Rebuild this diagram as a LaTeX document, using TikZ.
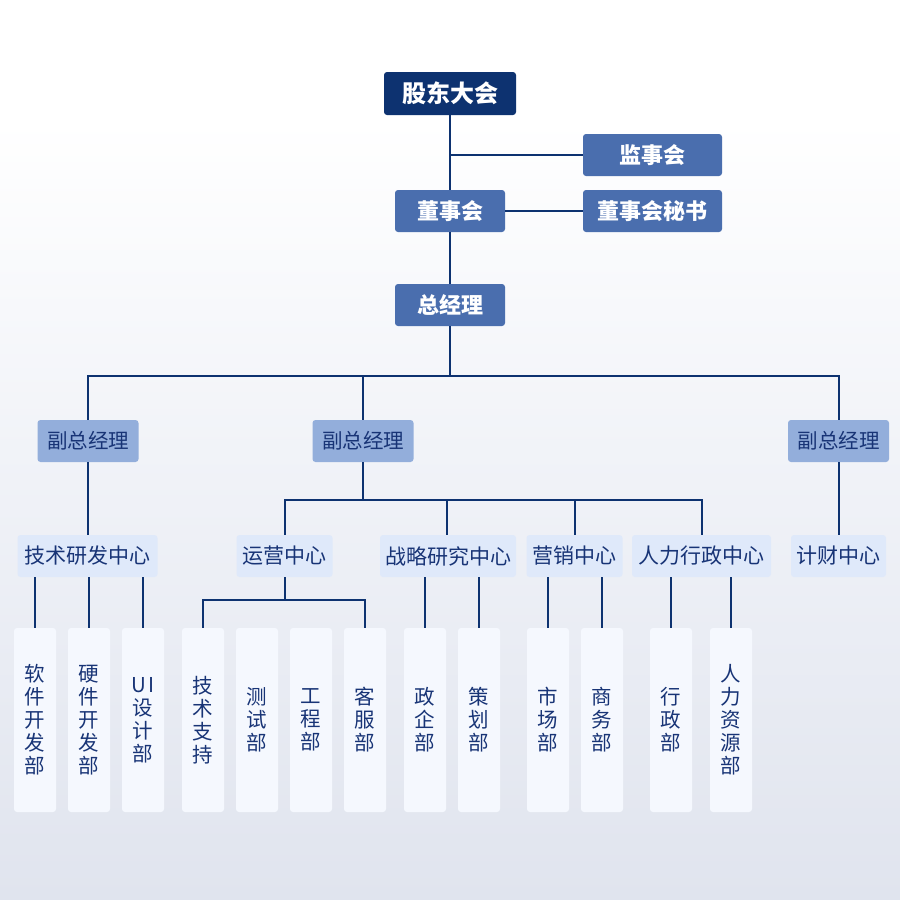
\documentclass[tikz,border=0pt]{standalone}
\usepackage{fontspec}
\setmainfont{Noto Sans CJK SC}
\definecolor{navy}{RGB}{13,50,112}
\definecolor{midblue}{RGB}{74,110,174}
\definecolor{vpblue}{RGB}{147,174,219}
\definecolor{ctrblue}{RGB}{223,233,250}
\definecolor{deptbg}{RGB}{245,248,254}
\definecolor{txtnavy}{RGB}{24,52,118}
\definecolor{bgbot}{RGB}{224,228,238}
\definecolor{bgmid}{RGB}{241,243,248}
\begin{document}
\begin{tikzpicture}[x=1pt,y=-1pt,
  box/.style={rounded corners=3pt, inner sep=0pt, anchor=center, align=center},
  topbox/.style={box, fill=navy, text=white, font=\fontsize{24}{27}\selectfont\bfseries, minimum width=132pt, minimum height=43pt},
  bluebox/.style={box, fill=midblue, text=white, font=\fontsize{22}{25}\selectfont\bfseries, minimum height=42pt},
  vpbox/.style={box, fill=vpblue, text=txtnavy, font=\fontsize{20.5}{24}\selectfont, minimum width=101pt, minimum height=42pt},
  ctrbox/.style={box, fill=ctrblue, text=txtnavy, font=\fontsize{21}{24}\selectfont, minimum height=42pt},
  deptbox/.style={box, fill=deptbg, text=txtnavy, font=\fontsize{20.5}{23}\selectfont, minimum width=42pt, minimum height=184pt},
  conn/.style={draw=navy, line width=2pt, line join=miter}
]
\useasboundingbox (0,0) rectangle (900,900);
\fill[white] (0,0) rectangle (900,120);
\shade[top color=white, bottom color=bgmid] (0,120) rectangle (900,450);
\shade[top color=bgmid, bottom color=bgbot] (0,450) rectangle (900,900);

% top levels
\node[topbox] (gd) at (450,93.5) {股东大会};
\node[bluebox, minimum width=139pt] (jsh) at (652.5,155) {监事会};
\node[bluebox, minimum width=110pt] (dsh) at (450,211) {董事会};
\node[bluebox, minimum width=139pt] (dsms) at (652.5,211) {董事会秘书};
\node[bluebox, minimum width=110pt] (zjl) at (450,305) {总经理};

% vice GMs
\node[vpbox] (vp1) at (88,441) {副总经理};
\node[vpbox] (vp2) at (363,441) {副总经理};
\node[vpbox] (vp3) at (838.5,441) {副总经理};

% centers
\node[ctrbox, minimum width=140pt] (c1) at (87.5,556) {技术研发中心};
\node[ctrbox, minimum width=96pt] (c2) at (284.5,556) {运营中心};
\node[ctrbox, minimum width=136pt] (c3) at (448,556) {战略研究中心};
\node[ctrbox, minimum width=96pt] (c4) at (574.5,556) {营销中心};
\node[ctrbox, minimum width=139pt] (c5) at (701.5,556) {人力行政中心};
\node[ctrbox, minimum width=95pt] (c6) at (838.5,556) {计财中心};

% departments
\node[deptbox] (d1) at (35,720) {软\\件\\开\\发\\部};
\node[deptbox] (d2) at (89,720) {硬\\件\\开\\发\\部};
\node[deptbox] (d3) at (143,720) {U\hspace{3pt}I\\设\\计\\部};
\node[deptbox] (d4) at (203,720) {技\\术\\支\\持};
\node[deptbox] (d5) at (257,720) {测\\试\\部};
\node[deptbox] (d6) at (311,720) {工\\程\\部};
\node[deptbox] (d7) at (365,720) {客\\服\\部};
\node[deptbox] (d8) at (425,720) {政\\企\\部};
\node[deptbox] (d9) at (479,720) {策\\划\\部};
\node[deptbox] (d10) at (548,720) {市\\场\\部};
\node[deptbox] (d11) at (602,720) {商\\务\\部};
\node[deptbox] (d12) at (671,720) {行\\政\\部};
\node[deptbox] (d13) at (731,720) {人\\力\\资\\源\\部};

% connectors top
\draw[conn] (gd.south) -- (dsh.north);
\draw[conn] (gd.south |- jsh.west) -- (jsh.west);
\draw[conn] (dsh.east) -- (dsms.west);
\draw[conn] (dsh.south) -- (zjl.north);
\draw[conn] (zjl.south) -- ++(0,50);
\draw[conn] (vp1.north) -- ++(0,-44) -| (vp3.north);
\draw[conn] (vp2.north) -- ++(0,-44);

% vice GMs to centers
\draw[conn] (vp1.south) -- (vp1.south |- c1.north);
\draw[conn] (vp3.south) -- (vp3.south |- c6.north);
\draw[conn] (vp2.south) -- ++(0,38);
\draw[conn] (c2.north) -- ++(0,-35) -| (c5.north);
\draw[conn] (c3.north -| 447,0) -- ++(0,-35);
\draw[conn] (c4.north) -- ++(0,-35);

% centers to departments
\draw[conn] (d1.north |- c1.south) -- (d1.north);
\draw[conn] (d2.north |- c1.south) -- (d2.north);
\draw[conn] (d3.north |- c1.south) -- (d3.north);
\draw[conn] (c2.south) -- ++(0,23);
\draw[conn] (d4.north) -- ++(0,-28) -| (d7.north);
\draw[conn] (d8.north |- c3.south) -- (d8.north);
\draw[conn] (d9.north |- c3.south) -- (d9.north);
\draw[conn] (d10.north |- c4.south) -- (d10.north);
\draw[conn] (d11.north |- c4.south) -- (d11.north);
\draw[conn] (d12.north |- c5.south) -- (d12.north);
\draw[conn] (d13.north |- c5.south) -- (d13.north);
\end{tikzpicture}
\end{document}
